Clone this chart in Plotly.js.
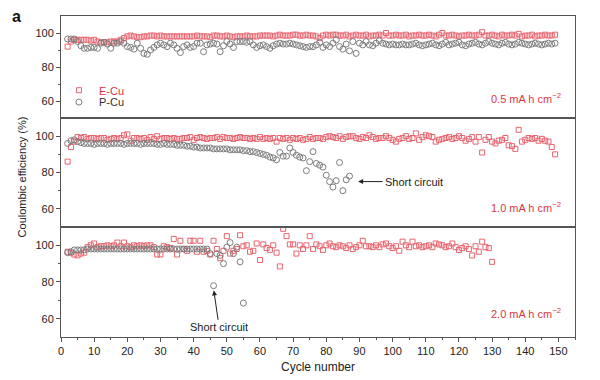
<!DOCTYPE html>
<html>
<head>
<meta charset="utf-8">
<script src="https://cdn.plot.ly/plotly-3.0.1.min.js"></script>
<style>html,body{margin:0;padding:0;background:#fff;}#chart{width:600px;height:380px;}</style>
</head>
<body>
<div id="chart"></div>
<script>
// Cycle numbers start
const startCycle = 2;

// Top panel (0.5 mA h cm-2), cycles 2..149
const topECu = [
 92, 95, 96, 96, 96, 96, 96, 95.5, 96, 95,
 94.5, 94.5, 94.5, 95, 95, 95, 96, 97, 98, 98.5,
 98, 97.5, 97.5, 98, 98, 98.5, 98.5, 98, 98.5, 98,
 98, 98, 98, 98, 98, 98, 98, 98, 98, 98.5,
 98, 98, 98, 97.5, 98.5, 98.5, 98, 98, 98.5, 98,
 97.5, 98, 98, 98, 98.5, 98, 98, 98, 98.5, 98.5,
 98.5, 98.5, 98, 98.5, 99, 98.5, 98.5, 98.5, 99, 99,
 98.5, 98.5, 99, 98.5, 98.5, 98, 97, 98.5, 99, 98.5,
 99, 99, 98.5, 98.5, 99, 98, 98.5, 99, 98.5, 98.5,
 99, 98, 98.5, 98.5, 99, 98.5, 100, 98.5, 98.5, 99,
 98.5, 98.5, 99, 98, 98.5, 98.5, 99, 98.5, 98.5, 99,
 98.5, 98, 99, 100, 98.5, 98.5, 99, 98.5, 98, 98.5,
 98.5, 99, 98.5, 98.5, 99, 100.5, 98.5, 98.5, 99, 98.5,
 98, 99, 98.5, 98.5, 99, 98.5, 99.5, 98, 98.5, 98.5,
 99, 98, 98.5, 98.5, 99, 98.5, 98.5, 99
];
const topPCu = [
 96.5, 96.5, 96.5, 95, 92.5, 91, 91, 91.5, 91.5, 91,
 94, 94.5, 93.5, 91, 94, 94, 95, 94, 92, 91.5,
 90.5, 94, 91, 88, 87.5, 90, 91.5, 93, 94, 93,
 92, 94, 93, 91, 88.5, 92, 93, 91.5, 92, 94,
 94, 89, 93, 93.5, 94, 93.5, 89, 92.5, 95, 93.5,
 91.5, 95, 95, 95, 94.5, 95, 93, 91.5, 92.5, 93,
 92, 91, 92.5, 93.5, 94, 93.5, 93.5, 94, 93.5, 93,
 92.5, 92, 91.5, 92, 92, 93, 94.5, 91.5, 93, 92,
 94, 96, 92, 90.5, 93.5, 89.5, 95, 88, 94, 93,
 95, 93, 92.5, 94, 95.5, 94, 93.5, 93, 93.5, 93,
 93, 93.5, 93, 93, 93.5, 94, 93, 92.5, 93, 93.5,
 94, 93, 92.5, 93.5, 94.5, 93, 93.5, 94, 94.5, 93,
 92.5, 93.5, 94, 94.5, 93.5, 93, 94, 95, 94, 93.5,
 93, 94, 94.5, 93.5, 93, 93.5, 94.5, 94, 93.5, 93,
 93.5, 94, 93.5, 93, 93.5, 94, 93.5, 94
];

// Middle panel (1.0 mA h cm-2)
const midECu = [
 86, 94, 97, 99.5, 99, 99.5, 98.5, 99, 99, 98.5,
 99, 99, 98, 98.5, 99, 98.5, 99, 100.5, 101, 97.5,
 99, 99, 98.5, 99, 98, 99.5, 98.5, 100, 98.5, 99,
 99, 98.5, 99, 98.5, 98.5, 99, 99, 99.5, 98, 99,
 99.5, 99, 98.5, 99, 99, 99.5, 98.5, 99.5, 99, 99,
 98.5, 99, 99.5, 99, 99, 98.5, 99, 98.5, 99.5, 98.5,
 99, 98.5, 99, 97, 99, 98.5, 99, 98, 99, 98.5,
 99, 98, 98.5, 99.5, 98.5, 99, 99, 98.5, 99.5, 100,
 99.5, 99, 100, 98.5, 99.5, 100, 100, 99, 98.5, 99.5,
 99, 100.5, 99.5, 98.5, 99, 99, 100, 99, 98, 97,
 98.5, 99, 100, 98.5, 99, 101.5, 98, 99.5, 100.5, 100,
 99.5, 97, 98, 98.5, 99, 99.5, 98.5, 99, 100, 99,
 97.5, 98.5, 99.5, 97, 99.5, 91, 98, 99.5, 97, 96,
 97.5, 98, 99, 95, 94.5, 93, 103.5, 97, 98, 99,
 98.5, 99, 97.5, 98.5, 97.5, 97, 94, 90
];
const midPCu = [
 96, 97.5, 98, 97, 96.5, 96, 96, 96, 95.5, 96,
 96, 96, 95.5, 96, 96, 96, 96, 95.5, 96, 96,
 96, 96, 95.5, 96, 96, 96, 96, 95.5, 95.5, 96,
 95.5, 95.5, 95.5, 95, 95, 95, 94.5, 94.5, 94, 94,
 93.5, 93.5, 93.5, 93.5, 93, 93, 93, 93, 93, 92.5,
 92.5, 92.5, 92.5, 92, 92, 91.5, 91.5, 91, 90.5, 90,
 89.5, 88.5, 88, 87, 91, 89, 89, 93.5, 91, 89.5,
 88.5, 88, 81, 86, 91.5, 85, 84, 83, 78.5, 75,
 72, 75.5, 85.5, 70, 76, 78
];

// Bottom panel (2.0 mA h cm-2)
const botECu = [
 96.5, 96, 95, 94.5, 95.5, 96, 99, 100, 101, 99,
 99.5, 99.5, 100, 99.5, 100, 101.5, 99.5, 101.5, 99.5, 99,
 100, 99.5, 100, 99.5, 100, 100, 99, 95, 95, 99.5,
 99, 98.5, 103.5, 95, 102.5, 98, 97, 102.5, 102.5, 96.5,
 102.5, 96.5, 97, 95, 102.5, 98, 93, 97, 105, 95.5,
 97, 98, 105.5, 99.5, 100, 96.5, 97, 101, 92, 100.5,
 98.5, 97.5, 100, 96, 88.5, 109, 105, 100.5, 100.5, 95.5,
 100, 98, 100, 105, 98, 100.5, 99.5, 97.5, 100, 101,
 99.5, 99, 100, 99.5, 98.5, 100, 98, 99, 100, 102.5,
 99.5, 99.5, 99, 100, 99, 100.5, 101, 99.5, 98.5, 99.5,
 97, 102, 100, 99, 102, 99.5, 100, 99, 99.5, 100,
 99, 101, 100.5, 100, 99, 99.5, 101, 99, 97.5, 98.5,
 99.5, 98, 94.5, 99.5, 96.5, 102, 99, 98.5, 91
];
const botPCu = [
 96, 96.5, 97.5, 97.5, 97.5, 97.5, 98, 98, 98, 98,
 98, 98, 98, 98, 98, 98, 98, 98, 98, 98,
 98, 98, 98, 98, 98, 98, 98, 98, 98, 98,
 98, 98, 98, 98, 98, 98, 98, 98, 98, 98,
 98, 98, 98, 95.5, 78, 95.5, 94.5, 90, 99, 101.5,
 95.5, 99, 91, 68.5
];

const seriesNames = ['E-Cu', 'P-Cu'];
const panelLabels = ['0.5 mA h cm<sup>\u22122</sup>', '1.0 mA h cm<sup>\u22122</sup>', '2.0 mA h cm<sup>\u22122</sup>'];
const xTicks = [0, 10, 20, 30, 40, 50, 60, 70, 80, 90, 100, 110, 120, 130, 140, 150];
const yTicks = [60, 80, 100];

const cyc = arr => arr.map((_, i) => i + startCycle);

const RED = '#e8646e';
const RED_TXT = '#dc3545';
const GRAY = '#7c7c7c';
const FONT = 'Liberation Sans, Arial, Helvetica, sans-serif';

function xFor(ya) { return ya === 'y' ? 'x3' : (ya === 'y2' ? 'x2' : 'x'); }
function ecu(vals, ya, show) {
  return {x: cyc(vals), y: vals, xaxis: xFor(ya), yaxis: ya,
    type: 'scatter', mode: 'markers', name: '<span style="color:' + RED_TXT + '">' + seriesNames[0] + '</span>',
    legend: 'legend', legendgroup: 'e', showlegend: show,
    marker: {symbol: 'square-open', size: 5, color: RED, line: {width: 1, color: RED}}};
}
function pcu(vals, ya, show) {
  return {x: cyc(vals), y: vals, xaxis: xFor(ya), yaxis: ya,
    type: 'scatter', mode: 'markers', name: '<span style="color:#333">' + seriesNames[1] + '</span>',
    legend: 'legend2', legendgroup: 'p', showlegend: show,
    marker: {symbol: 'circle-open', size: 6, color: GRAY, line: {width: 1, color: GRAY}}};
}

const data = [
  ecu(topECu, 'y', true), pcu(topPCu, 'y', true),
  ecu(midECu, 'y2', false), pcu(midPCu, 'y2', false),
  ecu(botECu, 'y3', false), pcu(botPCu, 'y3', false)
];

const axisLine = '#555';
const yBase = {range: [50, 110], tickvals: yTicks, ticks: 'outside', ticklen: 4, tickcolor: axisLine,
  showline: true, linecolor: axisLine, linewidth: 1, mirror: true, showgrid: false, zeroline: false,
  tickfont: {family: FONT, size: 11, color: '#222'},
  minor: {tickvals: [70, 90], ticks: 'outside', ticklen: 2, tickcolor: axisLine}};
const xHidden = {range: [0, 155], matches: 'x', showline: true, linecolor: axisLine, linewidth: 1, mirror: true,
  showticklabels: false, ticks: '', showgrid: false, zeroline: false};
const legBase = {xanchor: 'left', yanchor: 'top', bgcolor: 'rgba(0,0,0,0)', font: {family: FONT, size: 11}};

const layout = {
  width: 600, height: 380,
  margin: {l: 61, r: 25, t: 16, b: 43},
  paper_bgcolor: '#fff', plot_bgcolor: '#fff',
  font: {family: FONT, size: 11, color: '#222'},
  showlegend: true,
  legend: Object.assign({x: -0.004, y: 0.814}, legBase),
  legend2: Object.assign({x: -0.004, y: 0.777}, legBase),
  xaxis: {range: [0, 155], anchor: 'y3', tickvals: xTicks, ticks: 'outside', ticklen: 4, tickcolor: axisLine,
    showline: true, linecolor: axisLine, linewidth: 1, mirror: true, showgrid: false, zeroline: false,
    tickfont: {family: FONT, size: 11, color: '#222'},
    minor: {dtick: 5, ticks: 'outside', ticklen: 2, tickcolor: axisLine},
    title: {text: 'Cycle number', font: {family: FONT, size: 12, color: '#222'}, standoff: 6}},
  xaxis2: Object.assign({anchor: 'y2'}, xHidden),
  xaxis3: Object.assign({anchor: 'y'}, xHidden),
  yaxis: Object.assign({domain: [0.6822, 1], anchor: 'x3'}, yBase),
  yaxis2: Object.assign({domain: [0.3427, 0.6822], anchor: 'x2'}, yBase),
  yaxis3: Object.assign({domain: [0, 0.3427], anchor: 'x'}, yBase),
  annotations: [
    {xref: 'x3', yref: 'y', x: 151.5, y: 61.5, xanchor: 'right', yanchor: 'middle', showarrow: false,
      text: panelLabels[0], font: {family: FONT, size: 11, color: RED_TXT}},
    {xref: 'x2', yref: 'y2', x: 151.5, y: 61, xanchor: 'right', yanchor: 'middle', showarrow: false,
      text: panelLabels[1], font: {family: FONT, size: 11, color: RED_TXT}},
    {xref: 'x', yref: 'y3', x: 151.5, y: 63, xanchor: 'right', yanchor: 'middle', showarrow: false,
      text: panelLabels[2], font: {family: FONT, size: 11, color: RED_TXT}},
    {xref: 'x2', yref: 'y2', x: 89, y: 75, axref: 'x2', ayref: 'y2', ax: 97, ay: 75,
      xanchor: 'left', yanchor: 'middle', text: 'Short circuit', showarrow: true,
      arrowhead: 2, arrowsize: 1, arrowwidth: 1, arrowcolor: '#222', standoff: 2,
      font: {family: FONT, size: 11, color: '#222'}},
    {xref: 'x', yref: 'y3', x: 46, y: 76.5, axref: 'x', ayref: 'y3', ax: 47.7, ay: 55.3,
      xanchor: 'center', yanchor: 'middle', text: 'Short circuit', showarrow: true,
      arrowhead: 2, arrowsize: 1, arrowwidth: 1, arrowcolor: '#222', standoff: 2,
      font: {family: FONT, size: 11, color: '#222'}},
    {xref: 'paper', yref: 'paper', x: -0.076, y: 0.5, xanchor: 'center', yanchor: 'middle', showarrow: false,
      textangle: -90, text: 'Coulombic efficiency (%)', font: {family: FONT, size: 11, color: '#222'}},
    {xref: 'paper', yref: 'paper', x: -0.1, y: 1.0, xanchor: 'left', yanchor: 'middle', showarrow: false,
      text: '<b>a</b>', font: {family: FONT, size: 16, color: '#111'}}
  ]
};

Plotly.newPlot('chart', data, layout, {displayModeBar: false, staticPlot: true});
</script>
</body>
</html>
